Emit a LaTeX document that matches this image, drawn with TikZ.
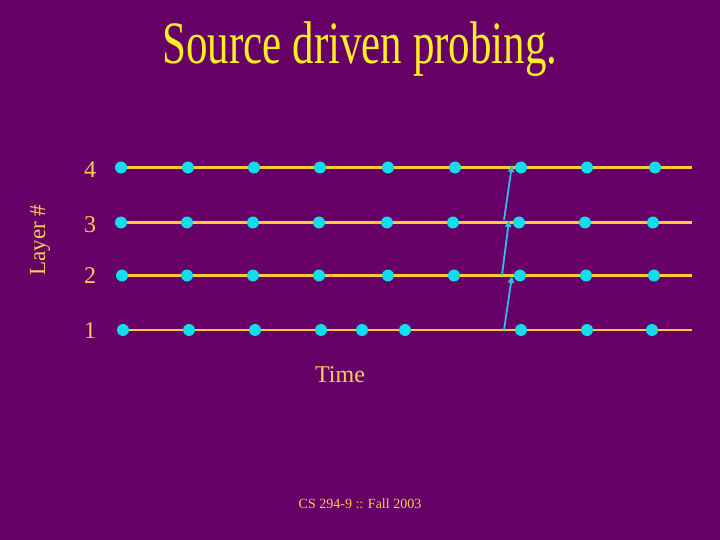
\documentclass[tikz,border=0pt]{standalone}
\usepackage{fontspec}
\setmainfont{Liberation Serif}
\usetikzlibrary{arrows.meta}
\definecolor{bg}{HTML}{660066}
\definecolor{titlecol}{HTML}{FFEE22}
\definecolor{txtcol}{HTML}{FFCC55}
\definecolor{linecol}{HTML}{FFCC33}
\definecolor{dotcol}{HTML}{11DDEE}
\definecolor{arrcol}{HTML}{33BBEE}
\begin{document}
\begin{tikzpicture}[x=1pt,y=-1pt,
  dot/.style={circle,fill=dotcol,inner sep=0pt,minimum size=12pt},
  layerline/.style={draw=linecol,line width=2.5pt},
  probe/.style={draw=arrcol,line width=1.8pt,-{Triangle[length=7pt,width=6pt]}},
  lbl/.style={text=txtcol,font=\fontsize{24}{26}\selectfont,anchor=base,inner sep=0pt}]
\fill[bg] (0,0) rectangle (720,540);
\useasboundingbox (0,0) rectangle (720,540);
\node[text=titlecol,font=\fontsize{43}{46}\selectfont,anchor=base,inner sep=0pt] (title) at (360,64) {\scalebox{1}[1.4]{Source driven probing.}};
\node[text=txtcol,rotate=90,font=\fontsize{23}{25}\selectfont] (ylab) at (40,240) {Layer \#};
\node[lbl] (l4) at (90,178) {4};
\node[lbl] (l3) at (90,233) {3};
\node[lbl] (l2) at (90,283) {2};
\node[lbl] (l1) at (90,338) {1};
\node[text=txtcol,font=\fontsize{24}{26}\selectfont,anchor=base,inner sep=0pt] (time) at (340,382) {Time};
\node[text=txtcol,font=\fontsize{14}{16}\selectfont,anchor=base,inner sep=0pt] (foot) at (360,508) {CS 294-9 :: Fall 2003};
% layer lines
\coordinate (e4) at (692,167.5);
\coordinate (e3) at (692,222.5);
\coordinate (e2) at (692,275.5);
\coordinate (e1) at (692,330);
\coordinate (s4) at (121,167.5);
\coordinate (s3) at (121,222.5);
\coordinate (s2) at (121,275.5);
\coordinate (s1) at (123,330);
\foreach \i in {1,...,4} \draw[layerline] (s\i) -- (e\i);
% dots
\foreach \x [count=\k] in {121,188,254,320,388,455,521,587,655}
  \node[dot] (a\k) at (\x,167.5) {};
\foreach \x [count=\k] in {121,187,253,319,387,453,519,585,653}
  \node[dot] (b\k) at (\x,222.5) {};
\foreach \x [count=\k] in {122,187,253,319,388,454,520,586,654}
  \node[dot] (c\k) at (\x,275.5) {};
\foreach \x [count=\k] in {123,189,255,321,362,405,521,587,652}
  \node[dot] (d\k) at (\x,330) {};
% probe arrows
\coordinate (p1) at (504,330);
\coordinate (q1) at (512,276);
\coordinate (p2) at (502,275);
\coordinate (q2) at (509,220);
\coordinate (p3) at (504,220);
\coordinate (q3) at (512,165);
\draw[probe] (p1) -- (q1);
\draw[probe] (p2) -- (q2);
\draw[probe] (p3) -- (q3);
\end{tikzpicture}
\end{document}
